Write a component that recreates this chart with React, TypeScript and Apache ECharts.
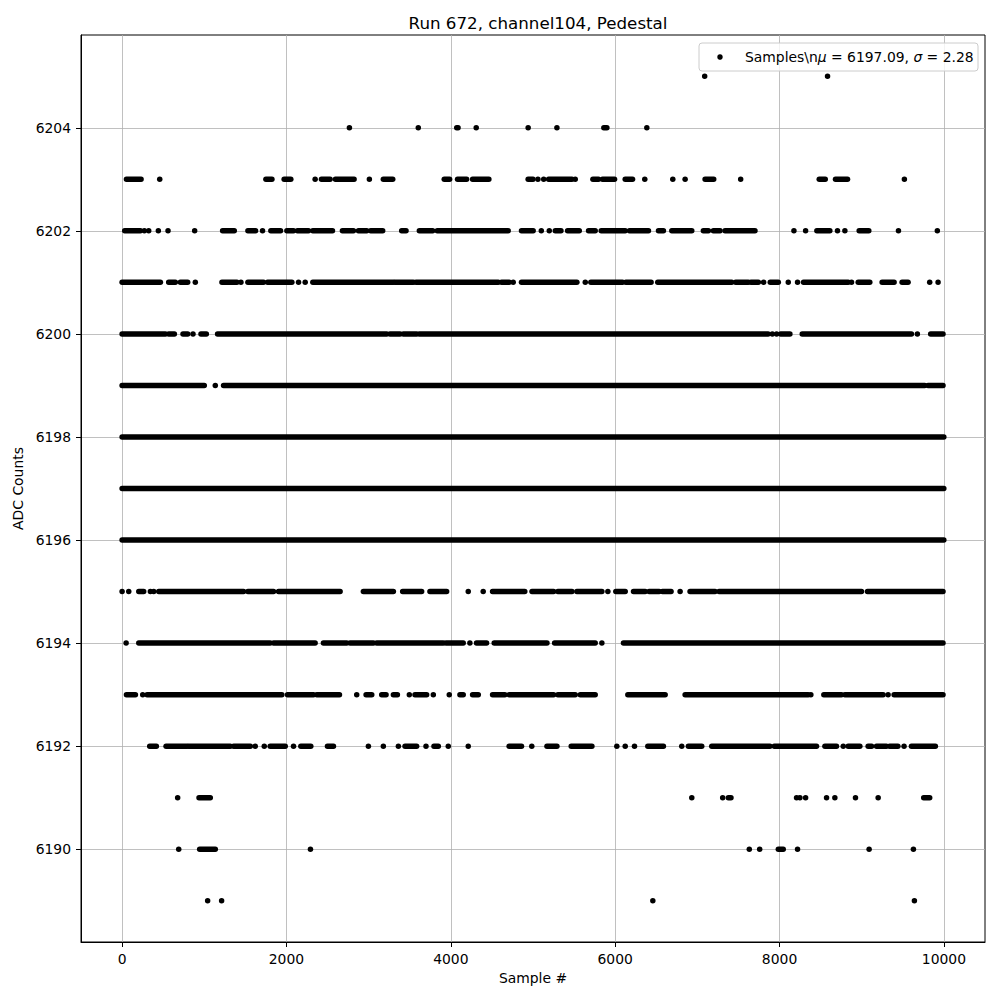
import React, { useEffect, useRef } from "react";
import * as echarts from "echarts";

// ADC levels and the sample runs seen at each level.
// A number is a single sample; [a, b] is a run of consecutive overlapping samples.
const L6205: (number | number[])[] = [7089, 8584];
const L6204: (number | number[])[] = [2766, 3604, [4072, 4088], 4309, 4941, 5291, [5862, 5899], 6385];
const L6203: (number | number[])[] = [[53, 231], 458, [1750, 1823], [1972, 2053], 2349, [2426, 2531], [2596, 2823], 3009, [3179, 3293], [3920, 3985], [4082, 4192], [4265, 4463], [4941, 5000], 5060, 5130, [5190, 5474], 5514, [5729, 5797], [5846, 5992], [6122, 6211], 6360, 6701, 6851, [7094, 7199], 7527, [8483, 8556], [8681, 8827], 9519];
const L6202: (number | number[])[] = [[32, 223], 271, 324, 441, 559, 883, [1223, 1365], [1531, 1624], 1709, [1810, 1928], [2005, 2086], [2134, 2268], [2321, 2560], [2681, 2815], [2876, 2977], [3025, 3171], [3402, 3455], [3617, 3779], [3835, 4698], [4860, 5002], 5101, 5198, [5271, 5340], [5421, 5563], [5676, 5757], [5830, 6122], [6174, 6405], [6527, 6587], [6689, 6932], [7073, 7134], [7195, 7276], [7337, 7701], 8175, 8317, [8454, 8612], 8705, 8795, [8969, 9086], 9447, 9920];
const L6201: (number | number[])[] = [[0, 466], [567, 648], [709, 798], 891, [1215, 1397], 1446, [1531, 1721], [1770, 2066], 2147, 2228, [2321, 3301], [3321, 3544], [3576, 4577], [4617, 4710], 4759, [4860, 5534], 5636, [5704, 6089], [6130, 6437], [6518, 7418], [7466, 7620], [7652, 7742], 7806, [7887, 7985], 8106, 8219, [8292, 8835], 8876, [8957, 9098], [9248, 9394], [9491, 9564], 9827, 9929];
const L6200: (number | number[])[] = [[0, 527], [567, 636], [741, 798], 863, [960, 1025], [1162, 3220], [3260, 3382], [3422, 3584], [3617, 7860], 7912, 7964, [8013, 8126], [8276, 9605], 9677, [9839, 9989]];
const L6199: (number | number[])[] = [[0, 1000], 1134, [1235, 9767], [9807, 9989]];
const L6198: (number | number[])[] = [[0, 9999]];
const L6197: (number | number[])[] = [[0, 9999]];
const L6196: (number | number[])[] = [[0, 9999]];
const L6195: (number | number[])[] = [0, 81, [203, 263], 344, 385, [446, 1478], [1531, 1843], [1904, 2653], [2936, 3301], [3414, 3645], [3746, 3949], 4212, 4394, [4508, 4900], [4988, 5251], [5303, 5474], [5534, 5838], 5911, [6008, 6122], [6223, 6365], [6413, 6535], [6575, 6680], 6790, [6911, 7215], [7264, 8997], [9070, 9989]];
const L6194: (number | number[])[] = [49, [203, 1802], [1843, 2349], [2450, 2734], [2774, 3058], [3098, 3908], [3941, 4151], 4232, [4313, 4435], [4528, 5170], [5263, 5757], 5838, [6101, 9989]];
const L6193: (number | number[])[] = [[53, 162], 251, [304, 1944], [2013, 2329], [2369, 2645], 2855, [2969, 3038], [3159, 3212], [3301, 3350], 3495, [3564, 3706], 3787, 3981, [4111, 4151], [4265, 4334], [4508, 4658], [4710, 5251], [5303, 5514], [5575, 5757], [6154, 6608], [6851, 8349], 8381, [8539, 8754], [8795, 9260], 9321, [9394, 9989]];
const L6192: (number | number[])[] = [[336, 417], [535, 790], [810, 1316], [1357, 1560], 1620, 1730, [1802, 1985], 2086, [2175, 2296], [2499, 2572], 2997, 3179, 3362, [3443, 3584], 3698, [3795, 3848], 3969, 4212, [4710, 4860], 4985, [5170, 5291], [5465, 5717], 6020, 6122, 6235, [6397, 6587], 6810, [6891, 7053], [7175, 7883], [7936, 8450], [8552, 8693], 8775, [8835, 8977], [9078, 9120], [9180, 9300], [9340, 9440], 9515, [9605, 9896]];
const L6191: (number | number[])[] = [676, [936, 1073], 6932, 7308, [7377, 7409], 8207, 8248, 8317, 8572, 8673, 8924, 9200, [9754, 9827]];
const L6190: (number | number[])[] = [689, [944, 1134], 2292, 7632, 7758, [7985, 8045], 8219, 9090, 9629];
const L6189: (number | number[])[] = [1041, 1211, 6458, 9641];

const LEVELS: [number, (number | number[])[]][] = [
  [6205, L6205], [6204, L6204], [6203, L6203], [6202, L6202], [6201, L6201],
  [6200, L6200], [6199, L6199], [6198, L6198], [6197, L6197], [6196, L6196],
  [6195, L6195], [6194, L6194], [6193, L6193], [6192, L6192], [6191, L6191],
  [6190, L6190], [6189, L6189],
];

const X_TICKS = [0, 2000, 4000, 6000, 8000, 10000];
const Y_TICKS = [6190, 6192, 6194, 6196, 6198, 6200, 6202, 6204];

const TITLE = "Run 672, channel104, Pedestal";
const LEGEND_TEXT = "Samples\\n{i|μ} = 6197.09, {i|σ} = 2.28";

const FONT = "DejaVu Sans";

function buildData(): number[][] {
  const out: number[][] = [];
  for (const [lvl, runs] of LEVELS) {
    for (const r of runs) {
      if (Array.isArray(r)) out.push([r[0], r[1], lvl]);
      else out.push([r, r, lvl]);
    }
  }
  return out;
}

export default function App() {
  const ref = useRef<HTMLDivElement>(null);
  useEffect(() => {
    if (!ref.current) return;
    const chart = echarts.init(ref.current, undefined, { renderer: "svg" });
    const R = 2.75;
    const option: any = {
      animation: false,
      backgroundColor: "#fff",
      title: {
        text: TITLE,
        left: 533,
        top: 9,
        textAlign: "center",
        textStyle: { fontFamily: FONT, fontSize: 16.7, fontWeight: "normal", color: "#000" },
      },
      grid: {
        left: 81,
        right: 15,
        top: 35,
        bottom: 58,
        show: true,
        borderColor: "#000",
        borderWidth: 1,
        backgroundColor: "transparent",
      },
      xAxis: {
        type: "value",
        min: -500,
        max: 10500,
        name: "Sample #",
        nameLocation: "middle",
        nameGap: 29,
        nameTextStyle: { fontFamily: FONT, fontSize: 13.9, color: "#000" },
        axisLine: { show: true, onZero: false, lineStyle: { color: "#000", width: 1 } },
        axisTick: { show: true, length: 5, customValues: X_TICKS, lineStyle: { color: "#000" } },
        axisLabel: { customValues: X_TICKS, margin: 10, fontFamily: FONT, fontSize: 13.9, color: "#000", formatter: (v: number) => String(v) },
        splitLine: { show: true, lineStyle: { color: "#b0b0b0", width: 0.8 } },
      },
      yAxis: {
        type: "value",
        min: 6188.2,
        max: 6205.8,
        name: "ADC Counts",
        nameLocation: "middle",
        nameRotate: 90,
        nameGap: 50,
        nameTextStyle: { fontFamily: FONT, fontSize: 13.9, color: "#000" },
        axisLine: { show: true, onZero: false, lineStyle: { color: "#000", width: 1 } },
        axisTick: { show: true, length: 5, customValues: Y_TICKS, lineStyle: { color: "#000" } },
        axisLabel: { customValues: Y_TICKS, margin: 10, fontFamily: FONT, fontSize: 13.9, color: "#000", formatter: (v: number) => String(v) },
        splitLine: { show: true, lineStyle: { color: "#b0b0b0", width: 0.8 } },
      },
      series: [
        {
          type: "custom",
          name: "Samples",
          data: buildData(),
          encode: { x: [0, 1], y: 2 },
          itemStyle: { color: "#000" },
          silent: true,
          renderItem: (params: any, api: any) => {
            const y = api.value(2);
            const p0 = api.coord([api.value(0), y]);
            const p1 = api.coord([api.value(1), y]);
            return {
              type: "rect",
              shape: { x: p0[0] - R, y: p0[1] - R, width: p1[0] - p0[0] + 2 * R, height: 2 * R, r: R },
              style: { fill: "#000" },
            };
          },
        },
      ],
      graphic: [
        {
          type: "rect",
          shape: { x: 699, y: 43, width: 279, height: 28, r: 3 },
          style: { fill: "rgba(255,255,255,0.8)", stroke: "#cccccc", lineWidth: 1 },
          z: 100,
        },
        {
          type: "circle",
          shape: { cx: 720, cy: 57, r: R },
          style: { fill: "#000" },
          z: 101,
        },
        {
          type: "text",
          x: 745,
          y: 57,
          z: 101,
          style: {
            text: LEGEND_TEXT,
            fontFamily: FONT,
            fontSize: 13.9,
            fill: "#000",
            verticalAlign: "middle",
            rich: { i: { fontFamily: FONT, fontStyle: "italic", fontSize: 13.9, fill: "#000" } },
          },
        },
      ],
    };
    chart.setOption(option);
    return () => chart.dispose();
  }, []);
  return <div ref={ref} style={{ position: "absolute", left: 0, top: 0, width: 1000, height: 1000 }} />;
}
